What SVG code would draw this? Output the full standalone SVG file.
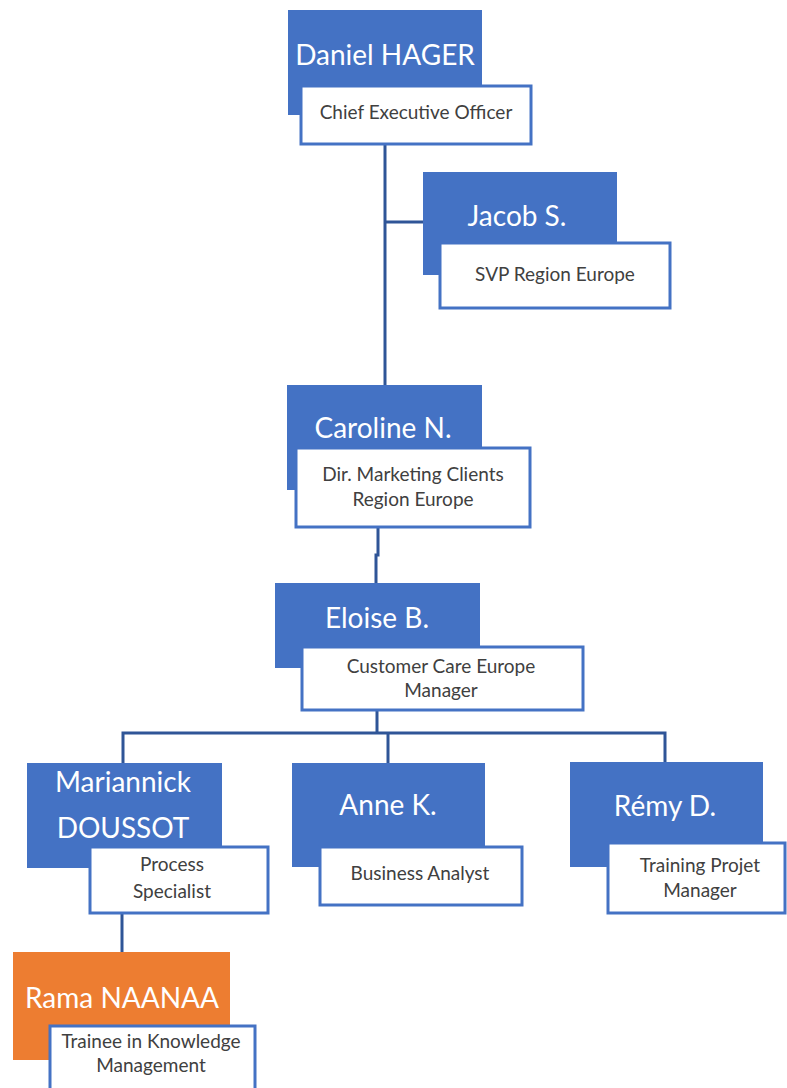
<svg xmlns="http://www.w3.org/2000/svg" width="787" height="1088" viewBox="0 0 787 1088">
<style>
.nm{fill:#4472C4}
.or{fill:#ED7D31}
.tb{fill:#ffffff;stroke:#4472C4;stroke-width:3}
.nt{font-family:Lato,"Open Sans",sans-serif;font-size:28px;fill:#ffffff;text-anchor:middle}
.tt{font-family:Lato,"Open Sans",sans-serif;font-size:19px;fill:#404040;text-anchor:middle}
.cn{fill:none;stroke:#2F5597;stroke-width:3}
</style>
<rect width="787" height="1088" fill="#ffffff"/>
<g id="connectors">
<path class="cn" d="M385 145 V386"/>
<path class="cn" d="M385 222 H424"/>
<path class="cn" d="M378 527 V555 H376 V584"/>
<path class="cn" d="M377 710 V733"/>
<path class="cn" d="M123 763 V733 H665 V763"/>
<path class="cn" d="M388 733 V763"/>
<path class="cn" d="M122 913 V953"/>
</g>
<g id="daniel">
<rect class="nm" x="288" y="10" width="194" height="105"/>
<text class="nt" x="385" y="65">Daniel HAGER</text>
<rect class="tb" x="301" y="86" width="230" height="58"/>
<text class="tt" x="416" y="119">Chief Executive Officer</text>
</g>
<g id="jacob">
<rect class="nm" x="423" y="172" width="194" height="103"/>
<text class="nt" x="517" y="226">Jacob S.</text>
<rect class="tb" x="440" y="243" width="230" height="65"/>
<text class="tt" x="555" y="281">SVP Region Europe</text>
</g>
<g id="caroline">
<rect class="nm" x="287" y="385" width="195" height="105"/>
<text class="nt" x="383" y="438">Caroline N.</text>
<rect class="tb" x="296" y="448" width="234" height="79"/>
<text class="tt" x="413" y="481">Dir. Marketing Clients</text>
<text class="tt" x="413" y="506">Region Europe</text>
</g>
<g id="eloise">
<rect class="nm" x="275" y="583" width="205" height="85"/>
<text class="nt" x="377" y="628">Eloise B.</text>
<rect class="tb" x="302" y="647" width="281" height="63"/>
<text class="tt" x="441" y="673">Customer Care Europe</text>
<text class="tt" x="441" y="697">Manager</text>
</g>
<g id="mariannick">
<rect class="nm" x="27" y="763" width="195" height="105"/>
<text class="nt" x="123" y="792">Mariannick</text>
<text class="nt" x="123" y="838">DOUSSOT</text>
<rect class="tb" x="90" y="847" width="178" height="66"/>
<text class="tt" x="172" y="871">Process</text>
<text class="tt" x="172" y="898">Specialist</text>
</g>
<g id="anne">
<rect class="nm" x="292" y="763" width="193" height="104"/>
<text class="nt" x="388" y="815">Anne K.</text>
<rect class="tb" x="320" y="847" width="202" height="58"/>
<text class="tt" x="420" y="880">Business Analyst</text>
</g>
<g id="remy">
<rect class="nm" x="570" y="762" width="193" height="105"/>
<text class="nt" x="665" y="816">Rémy D.</text>
<rect class="tb" x="608" y="843" width="177" height="70"/>
<text class="tt" x="700" y="872">Training Projet</text>
<text class="tt" x="700" y="897">Manager</text>
</g>
<g id="rama">
<rect class="or" x="13" y="952" width="217" height="108"/>
<text class="nt" x="122" y="1008">Rama NAANAA</text>
<rect class="tb" x="50" y="1026" width="205" height="70"/>
<text class="tt" x="151" y="1048">Trainee in Knowledge</text>
<text class="tt" x="151" y="1072">Management</text>
</g>
</svg>
